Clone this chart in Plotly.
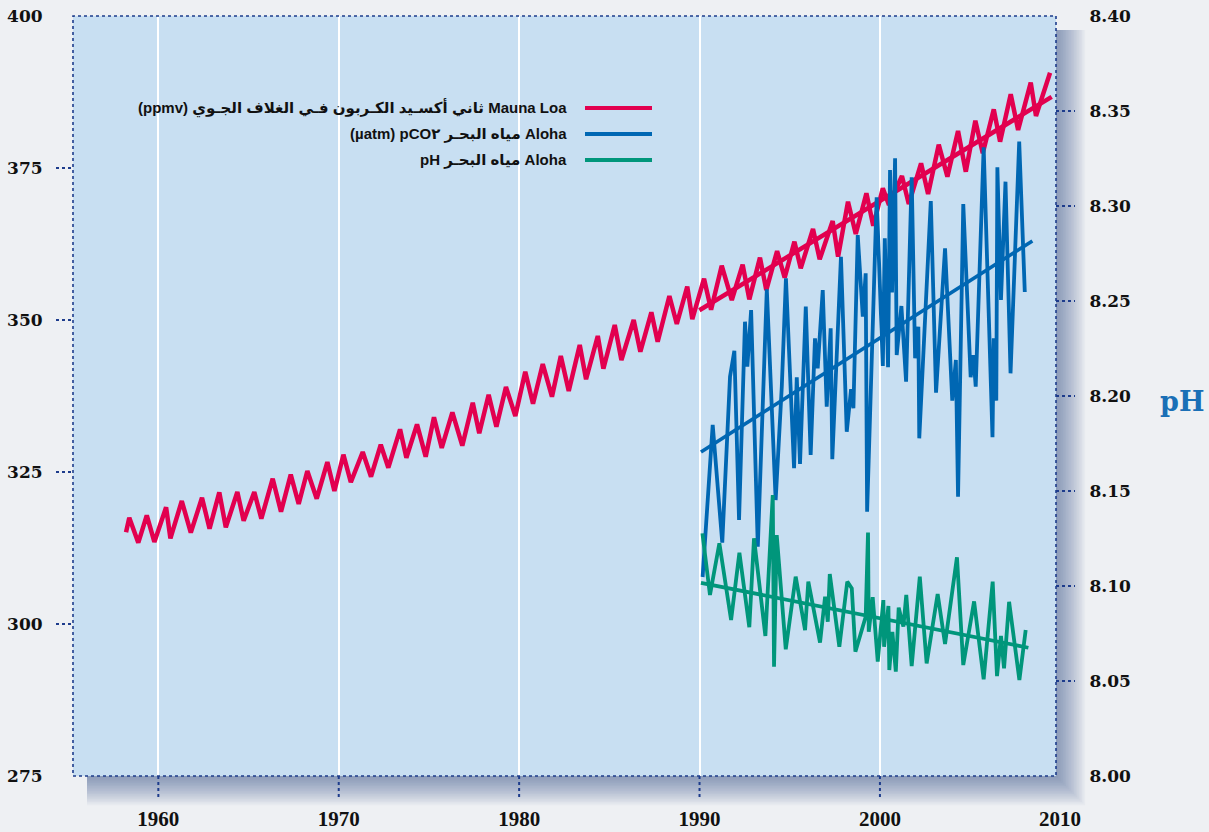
import plotly.graph_objects as go

# ---- Mauna Loa atmospheric CO2 (ppmv), seasonal highs and lows ----
mlo_year = [1958.21, 1958.39, 1958.89, 1959.36, 1959.78, 1960.43, 1960.67, 1961.30, 1961.80,
            1962.42, 1962.84, 1963.38, 1963.74, 1964.38, 1964.73, 1965.32, 1965.71, 1966.34,
            1966.80, 1967.34, 1967.78, 1968.26, 1968.78, 1969.37, 1969.76, 1970.26, 1970.67,
            1971.33, 1971.79, 1972.33, 1972.75, 1973.40, 1973.75, 1974.34, 1974.82, 1975.28,
            1975.71, 1976.30, 1976.85, 1977.43, 1977.79, 1978.31, 1978.74, 1979.27, 1979.79,
            1980.34, 1980.77, 1981.31, 1981.82, 1982.31, 1982.75, 1983.36, 1983.71, 1984.36,
            1984.67, 1985.30, 1985.67, 1986.35, 1986.72, 1987.33, 1987.68, 1988.33, 1988.74,
            1989.32, 1989.60, 1990.25, 1990.64, 1991.23, 1991.79, 1992.39, 1992.76, 1993.35,
            1993.70, 1994.30, 1994.72, 1995.26, 1995.61, 1996.29, 1996.66, 1997.38, 1997.68,
            1998.23, 1998.66, 1999.25, 1999.63, 2000.16, 2000.50, 2001.22, 2001.60, 2002.28,
            2002.67, 2003.26, 2003.74, 2004.33, 2004.76, 2005.29, 2005.70, 2006.31, 2006.66,
            2007.25, 2007.66, 2008.36, 2008.65, 2009.43]
mlo_ppmv = [315.08, 317.48, 313.37, 317.88, 313.49, 319.19, 314.09, 320.23, 315.02,
            320.77, 315.67, 321.66, 315.90, 321.71, 316.99, 321.71, 317.32, 323.90,
            318.47, 324.56, 319.74, 325.16, 320.61, 326.64, 321.87, 327.85, 323.31,
            328.29, 324.23, 329.49, 325.71, 332.02, 327.35, 332.84, 327.52, 334.00,
            328.95, 334.82, 329.33, 336.40, 331.36, 337.71, 332.45, 338.98, 334.21,
            341.50, 336.23, 342.76, 337.38, 344.08, 338.32, 345.89, 340.25, 347.37,
            341.99, 349.18, 343.42, 350.00, 344.79, 351.27, 346.43, 353.95, 349.34,
            355.48, 350.16, 356.79, 351.69, 358.93, 353.29, 359.10, 353.40, 360.25,
            354.93, 361.35, 356.96, 362.88, 358.50, 364.97, 359.98, 366.28, 360.41,
            369.46, 364.14, 370.84, 365.51, 371.66, 368.91, 373.68, 369.08, 375.77,
            370.72, 378.83, 373.57, 381.09, 374.39, 382.78, 377.42, 384.65, 379.33,
            387.12, 381.25, 389.03, 383.55, 390.67]
mlo_trend_year = [1989.99, 2009.52]
mlo_trend_ppmv = [351.6, 386.7]

# ---- Station ALOHA surface seawater pCO2 (uatm) ----
pco2_year = [1990.17, 1990.73, 1991.26, 1991.69, 1991.93, 1992.19, 1992.52, 1992.65, 1992.86,
             1993.23, 1993.73, 1994.22, 1994.56, 1994.79, 1995.24, 1995.39, 1995.57, 1995.89,
             1996.16, 1996.40, 1996.55, 1996.83, 1997.05, 1997.27, 1997.36, 1997.84, 1998.16,
             1998.40, 1998.53, 1998.77, 1999.05, 1999.21, 1999.29, 1999.82, 2000.16, 2000.27,
             2000.45, 2000.56, 2000.67, 2000.84, 2000.93, 2001.19, 2001.45, 2001.76, 2001.95,
             2002.13, 2002.18, 2002.82, 2003.11, 2003.61, 2004.01, 2004.21, 2004.33, 2004.62,
             2005.03, 2005.18, 2005.31, 2005.75, 2006.24, 2006.31, 2006.45, 2006.51, 2006.71,
             2006.96, 2007.24, 2007.72, 2008.03]
pco2_uatm = [307.73, 332.73, 313.37, 340.67, 344.95, 317.11, 349.72, 342.32, 351.64,
             312.71, 355.05, 320.39, 339.03, 356.86, 325.61, 340.58, 326.32, 352.19,
             327.80, 346.99, 342.06, 354.93, 335.74, 348.63, 327.09, 360.41, 331.63,
             338.60, 335.48, 363.98, 350.54, 357.68, 318.47, 370.18, 342.43, 363.44,
             342.22, 374.67, 354.52, 376.60, 344.24, 352.30, 339.85, 373.47, 343.70,
             348.90, 330.54, 369.57, 338.04, 361.79, 336.73, 343.42, 320.94, 369.08,
             340.58, 344.24, 339.03, 378.40, 330.71, 346.99, 336.73, 375.11, 353.29,
             372.75, 341.23, 379.33, 354.60]
pco2_trend_year = [1990.08, 2008.45]
pco2_trend_uatm = [328.3, 363.0]

# ---- Station ALOHA surface seawater pH ----
ph_year = [1990.16, 1990.58, 1991.10, 1991.75, 1992.21, 1992.76, 1993.02, 1993.65, 1994.06,
           1994.13, 1994.28, 1994.78, 1995.33, 1995.85, 1996.03, 1996.68, 1996.96, 1997.11,
           1997.22, 1997.75, 1998.19, 1998.44, 1998.64, 1999.21, 1999.34, 1999.38, 1999.60,
           1999.88, 2000.19, 2000.23, 2000.47, 2000.52, 2000.69, 2000.88, 2001.04, 2001.30,
           2001.46, 2001.76, 2002.21, 2002.59, 2003.20, 2003.61, 2004.27, 2004.62, 2005.22,
           2005.75, 2006.25, 2006.49, 2006.71, 2006.88, 2007.16, 2007.73, 2008.08]
ph_value = [8.1277, 8.0953, 8.1225, 8.0821, 8.1175, 8.0783, 8.1251, 8.0737, 8.1479,
            8.0575, 8.1268, 8.0667, 8.1049, 8.0768, 8.1023, 8.0702, 8.0944, 8.0812,
            8.1063, 8.0680, 8.1023, 8.0988, 8.0654, 8.0838, 8.1281, 8.0759, 8.0941,
            8.0602, 8.0926, 8.0680, 8.0895, 8.0558, 8.0759, 8.0549, 8.0886, 8.0786,
            8.0953, 8.0579, 8.1049, 8.0593, 8.0958, 8.0695, 8.1151, 8.0584, 8.0919,
            8.0509, 8.1023, 8.0526, 8.0737, 8.0567, 8.0917, 8.0505, 8.0768]
ph_trend_year = [1990.08, 2008.23]
ph_trend_value = [8.1017, 8.0675]

# ---- axes ----
year_ticks = [1960, 1970, 1980, 1990, 2000]
year_extra_label = 2010
ppmv_ticks = [275, 300, 325, 350, 375, 400]
ph_ticks = [8.00, 8.05, 8.10, 8.15, 8.20, 8.25, 8.30, 8.35, 8.40]
x_range = [1955.27, 2009.76]
left_range = [275, 400]
right_range = [8.00, 8.40]

legend_labels = [
    "Mauna Loa ثاني أكسـيد الكـربون فـي الغلاف الجـوي (ppmv)",
    "Aloha مياه البحـر pCO٢ (µatm)",
    "Aloha مياه البحـر pH",
]
right_title = "pH"

RED = "#e2004f"
BLUE = "#0067b3"
GREEN = "#00967b"
NAVY = "#1d3c8c"
PLOT_BG = "#c8dff2"
PAPER_BG = "#eef0f3"

W, H = 1209, 832
ML, MR, MT, MB = 73, 153, 16, 56
PW, PH = W - ML - MR, H - MT - MB

fig = go.Figure()

fig.add_trace(go.Scatter(x=mlo_year, y=mlo_ppmv, mode="lines",
                         line=dict(color=RED, width=4.5), yaxis="y", hoverinfo="skip"))
fig.add_trace(go.Scatter(x=mlo_trend_year, y=mlo_trend_ppmv, mode="lines",
                         line=dict(color=RED, width=4.5), yaxis="y", hoverinfo="skip"))
fig.add_trace(go.Scatter(x=pco2_year, y=pco2_uatm, mode="lines",
                         line=dict(color=BLUE, width=3.8), yaxis="y", hoverinfo="skip"))
fig.add_trace(go.Scatter(x=pco2_trend_year, y=pco2_trend_uatm, mode="lines",
                         line=dict(color=BLUE, width=3.6), yaxis="y", hoverinfo="skip"))
fig.add_trace(go.Scatter(x=ph_year, y=ph_value, mode="lines",
                         line=dict(color=GREEN, width=3.8), yaxis="y2", hoverinfo="skip"))
fig.add_trace(go.Scatter(x=ph_trend_year, y=ph_trend_value, mode="lines",
                         line=dict(color=GREEN, width=3.8), yaxis="y2", hoverinfo="skip"))

shapes = []
# soft drop shadow behind the plot panel
for i in range(18):
    grow = i * 1.6
    shapes.append(dict(type="rect", xref="paper", yref="paper", layer="below",
                       x0=14 / PW, x1=1 + (2 + grow) / PW,
                       y0=-(2 + grow) / PH, y1=1 - 14 / PH,
                       fillcolor="rgba(40,75,140,0.032)", line=dict(width=0)))
# plot panel
shapes.append(dict(type="rect", xref="paper", yref="paper", layer="below",
                   x0=0, x1=1, y0=0, y1=1, fillcolor=PLOT_BG, line=dict(width=0)))
# dotted frame
shapes.append(dict(type="rect", xref="paper", yref="paper", layer="above",
                   x0=0, x1=1, y0=0, y1=1, fillcolor="rgba(0,0,0,0)",
                   line=dict(color=NAVY, width=1.6, dash="dot")))
# dotted tick marks
for t in year_ticks:
    shapes.append(dict(type="line", xref="x", yref="paper", x0=t, x1=t,
                       y0=0, y1=-24 / PH, line=dict(color=NAVY, width=2, dash="dot")))
for t in ppmv_ticks[1:-1]:
    shapes.append(dict(type="line", xref="paper", yref="y", x0=-17 / PW, x1=0,
                       y0=t, y1=t, line=dict(color=NAVY, width=2, dash="dot")))
for t in ph_ticks[1:-1]:
    shapes.append(dict(type="line", xref="paper", yref="y2", x0=1, x1=1 + 19 / PW,
                       y0=t, y1=t, line=dict(color=NAVY, width=2, dash="dot")))

# legend drawn right-to-left: text on the left, colour swatch on the right
legend_colors = [RED, BLUE, GREEN]
legend_rows_px = [108, 134, 160]
annotations = []
for label, color, ypx in zip(legend_labels, legend_colors, legend_rows_px):
    yp = (H - MB - ypx) / PH
    shapes.append(dict(type="line", xref="paper", yref="paper",
                       x0=(585 - ML) / PW, x1=(652 - ML) / PW, y0=yp, y1=yp,
                       line=dict(color=color, width=4)))
    annotations.append(dict(xref="paper", yref="paper", x=(569 - ML) / PW, y=yp,
                            xanchor="right", yanchor="middle", showarrow=False,
                            text="<b>\u202b" + label + "\u202c</b>",
                            font=dict(family="Liberation Sans, DejaVu Sans, sans-serif",
                                      size=15, color="#111111")))

annotations.append(dict(xref="paper", yref="paper",
                        x=(year_extra_label - x_range[0]) / (x_range[1] - x_range[0]),
                        y=-(819 - (H - MB)) / PH, xanchor="center", yanchor="middle",
                        showarrow=False, text="<b>%d</b>" % year_extra_label,
                        font=dict(family="Liberation Serif, serif", size=21, color="#111111")))
annotations.append(dict(xref="paper", yref="paper", x=(1182 - ML) / PW,
                        y=(H - MB - 401) / PH, xanchor="center", yanchor="middle",
                        showarrow=False, text="<b>%s</b>" % right_title,
                        font=dict(family="DejaVu Serif, serif", size=27, color="#1a6fb6")))

fig.update_layout(
    width=W, height=H, autosize=False,
    margin=dict(l=ML, r=MR, t=MT, b=MB, pad=0),
    paper_bgcolor=PAPER_BG, plot_bgcolor="rgba(0,0,0,0)",
    showlegend=False,
    shapes=shapes, annotations=annotations,
    xaxis=dict(range=x_range, tickvals=year_ticks, ticktext=["<b>%d</b>" % t for t in year_ticks],
               showgrid=True, gridcolor="white", gridwidth=2, zeroline=False,
               showline=False, ticks="outside", ticklen=24, tickcolor="rgba(0,0,0,0)",
               tickfont=dict(family="Liberation Serif, serif", size=21, color="#111111"),
               automargin=False, fixedrange=True),
    yaxis=dict(range=left_range, tickvals=ppmv_ticks, ticktext=["<b>%d</b>" % t for t in ppmv_ticks],
               showgrid=False, zeroline=False, showline=False,
               ticks="outside", ticklen=26, tickcolor="rgba(0,0,0,0)",
               tickfont=dict(family="DejaVu Serif, serif", size=17, color="#111111"),
               automargin=False, fixedrange=True),
    yaxis2=dict(range=right_range, overlaying="y", side="right", tickvals=ph_ticks,
                ticktext=["<b>%.2f</b>" % t for t in ph_ticks],
                showgrid=False, zeroline=False, showline=False,
                ticks="outside", ticklen=29, tickcolor="rgba(0,0,0,0)",
                tickfont=dict(family="DejaVu Serif, serif", size=17, color="#111111"),
                automargin=False, fixedrange=True),
)

fig.write_html("out.html")
